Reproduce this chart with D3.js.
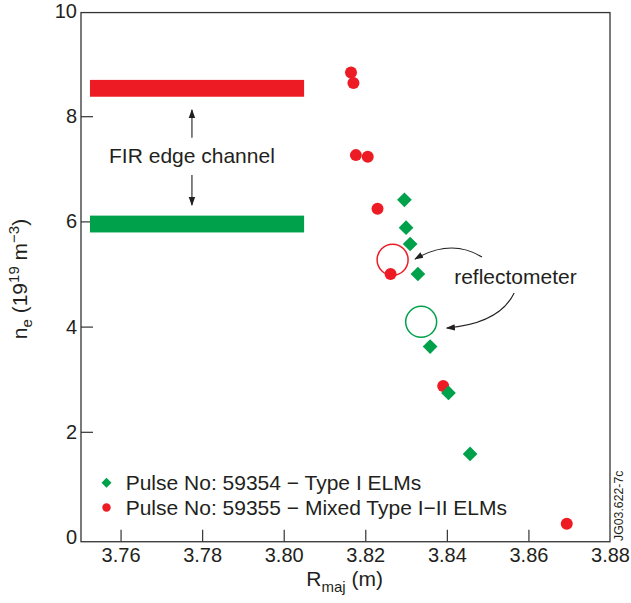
<!DOCTYPE html>
<html>
<head>
<meta charset="utf-8">
<script src="https://cdn.jsdelivr.net/npm/d3@7"></script>
<style>
  body { margin: 0; background: #fff; }
  svg { display: block; font-family: "Liberation Sans", Arial, sans-serif; }
</style>
</head>
<body>
<svg id="chart"></svg>
<script>
// Pulse 59355 (red circles)
const redR = [3.8165, 3.8171, 3.8177, 3.8206, 3.8230, 3.8262, 3.8391, 3.8694];
const redNe = [8.83, 8.63, 7.26, 7.23, 6.24, 5.00, 2.87, 0.25];
// Pulse 59354 (green diamonds)
const greenR = [3.8296, 3.8300, 3.8310, 3.8329, 3.8359, 3.8404, 3.8457];
const greenNe = [6.41, 5.88, 5.57, 5.00, 3.62, 2.74, 1.58];
// reflectometer open circles: red, green
const reflR = [3.8267, 3.8337];
const reflNe = [5.27, 4.09];
// FIR edge channel bands
const firR = [3.7525, 3.8050];
const firRedNe = [8.37, 8.69];
const firGreenNe = [5.79, 6.11];

const xTicks = [3.76, 3.78, 3.80, 3.82, 3.84, 3.86, 3.88];
const yTicks = [0, 2, 4, 6, 8, 10];

const red = "#ed1c24";
const green = "#00a14b";
const ink = "#231f20";

const svgWidth = 631;
const svgHeight = 603;

const svg = d3.select("#chart")
  .attr("width", svgWidth)
  .attr("height", svgHeight);

const x = d3.scaleLinear().domain([3.7503, 3.88]).range([81, 610]);
const y = d3.scaleLinear().domain([0, 10]).range([537, 11]);

// plot frame sits slightly outside the 0..10 range
const frameTop = y(9.97);
const frameBottom = y(-0.09);

// defs: arrow head
svg.append("defs").append("marker")
  .attr("id", "head")
  .attr("viewBox", "0 -4 9 8")
  .attr("refX", 8)
  .attr("refY", 0)
  .attr("markerUnits", "userSpaceOnUse")
  .attr("markerWidth", 9)
  .attr("markerHeight", 8)
  .attr("orient", "auto")
  .append("path")
  .attr("d", "M0,-3.2L9,0L0,3.2Z")
  .attr("fill", ink);

// axes
const xAxis = d3.axisBottom(x)
  .tickValues(xTicks)
  .tickFormat(d3.format(".2f"))
  .tickSize(-12)
  .tickPadding(6);

const yAxis = d3.axisLeft(y)
  .tickValues(yTicks)
  .tickSize(-12)
  .tickPadding(4);

const gx = svg.append("g")
  .attr("transform", "translate(0," + frameBottom + ")")
  .call(xAxis);

const gy = svg.append("g")
  .attr("transform", "translate(" + x.range()[0] + ",0)")
  .call(yAxis);

[gx, gy].forEach((g) => {
  g.select(".domain").remove();
  g.selectAll(".tick line").attr("stroke", "#333").attr("stroke-width", 1.2);
  g.selectAll(".tick text")
    .attr("fill", ink)
    .style("font-size", "20px")
    .style("font-family", "'Liberation Sans', Arial, sans-serif");
});
// end ticks fall on the frame, so only their labels show
gy.selectAll(".tick").filter((d) => d === 0 || d === 10).select("line").remove();
gx.selectAll(".tick").filter((d) => d === 3.88).select("line").remove();

// frame
svg.append("rect")
  .attr("x", x.range()[0])
  .attr("y", frameTop)
  .attr("width", x.range()[1] - x.range()[0])
  .attr("height", frameBottom - frameTop)
  .attr("fill", "none")
  .attr("stroke", "#333")
  .attr("stroke-width", 1.3);

// FIR bands
svg.append("rect")
  .attr("x", x(firR[0]))
  .attr("y", y(firRedNe[1]))
  .attr("width", x(firR[1]) - x(firR[0]))
  .attr("height", y(firRedNe[0]) - y(firRedNe[1]))
  .attr("fill", red);

svg.append("rect")
  .attr("x", x(firR[0]))
  .attr("y", y(firGreenNe[1]))
  .attr("width", x(firR[1]) - x(firR[0]))
  .attr("height", y(firGreenNe[0]) - y(firGreenNe[1]))
  .attr("fill", green);

// FIR annotation
svg.append("text")
  .attr("x", x(3.7775))
  .attr("y", y(7.116))
  .attr("text-anchor", "middle")
  .attr("fill", ink)
  .style("font-size", "21px")
  .text("FIR edge channel");

svg.append("line")
  .attr("x1", x(3.7775)).attr("y1", y(7.59))
  .attr("x2", x(3.7775)).attr("y2", y(8.12))
  .attr("stroke", ink).attr("stroke-width", 1.1)
  .attr("marker-end", "url(#head)");

svg.append("line")
  .attr("x1", x(3.7775)).attr("y1", y(6.88))
  .attr("x2", x(3.7775)).attr("y2", y(6.31))
  .attr("stroke", ink).attr("stroke-width", 1.1)
  .attr("marker-end", "url(#head)");

// reflectometer open circles
const reflColors = [red, green];
svg.selectAll(".refl")
  .data(reflR)
  .enter()
  .append("circle")
  .attr("class", "refl")
  .attr("cx", (d) => x(d))
  .attr("cy", (d, i) => y(reflNe[i]))
  .attr("r", 15.5)
  .attr("fill", "none")
  .attr("stroke", (d, i) => reflColors[i])
  .attr("stroke-width", 1.5);

// red circles
svg.selectAll(".red")
  .data(redR)
  .enter()
  .append("circle")
  .attr("class", "red")
  .attr("cx", (d) => x(d))
  .attr("cy", (d, i) => y(redNe[i]))
  .attr("r", 6)
  .attr("fill", red);

// green diamonds
const diamond = d3.symbol().type(d3.symbolSquare).size(108);
svg.selectAll(".green")
  .data(greenR)
  .enter()
  .append("path")
  .attr("class", "green")
  .attr("d", diamond)
  .attr("transform", (d, i) => "translate(" + x(d) + "," + y(greenNe[i]) + ") rotate(45)")
  .attr("fill", green);

// reflectometer label and arrows
svg.append("text")
  .attr("x", x(3.8418))
  .attr("y", y(4.81))
  .attr("fill", ink)
  .style("font-size", "21px")
  .text("reflectometer");

const curve = (p0, c, p1) =>
  "M" + x(p0[0]) + "," + y(p0[1]) +
  "Q" + x(c[0]) + "," + y(c[1]) + " " + x(p1[0]) + "," + y(p1[1]);

svg.append("path")
  .attr("d", curve([3.8486, 5.323], [3.8411, 5.684], [3.8322, 5.285]))
  .attr("fill", "none")
  .attr("stroke", ink)
  .attr("stroke-width", 1.1)
  .attr("marker-end", "url(#head)");

svg.append("path")
  .attr("d", curve([3.8565, 4.639], [3.8529, 4.059], [3.8400, 3.973]))
  .attr("fill", "none")
  .attr("stroke", ink)
  .attr("stroke-width", 1.1)
  .attr("marker-end", "url(#head)");

// legend
const legend = svg.append("g").style("font-size", "21px").attr("fill", ink);
legend.append("path")
  .attr("d", d3.symbol().type(d3.symbolSquare).size(50))
  .attr("transform", "translate(106.5,482.8) rotate(45)")
  .attr("fill", green);
legend.append("circle")
  .attr("cx", 106.5).attr("cy", 507.5).attr("r", 4.2)
  .attr("fill", red);
legend.append("text")
  .attr("x", 125.7).attr("y", 490)
  .text("Pulse No: 59354 \u2212 Type I ELMs");
legend.append("text")
  .attr("x", 125.7).attr("y", 514.5)
  .text("Pulse No: 59355 \u2212 Mixed Type I\u2212II ELMs");

// axis titles
const xt = svg.append("text")
  .attr("x", 344.7)
  .attr("y", 586)
  .attr("text-anchor", "middle")
  .attr("fill", ink)
  .style("font-size", "21px");
xt.append("tspan").text("R");
xt.append("tspan").attr("dy", 6).style("font-size", "15px").text("maj");
xt.append("tspan").attr("dy", -6).text(" (m)");

const yt = svg.append("text")
  .attr("transform", "translate(27,279) rotate(-90)")
  .attr("text-anchor", "middle")
  .attr("fill", ink)
  .style("font-size", "21px");
yt.append("tspan").text("n");
yt.append("tspan").attr("dy", 5).style("font-size", "15px").text("e");
yt.append("tspan").attr("dy", -5).text(" (19");
yt.append("tspan").attr("dy", -8).style("font-size", "15px").text("19");
yt.append("tspan").attr("dy", 8).text(" m");
yt.append("tspan").attr("dy", -8).style("font-size", "15px").text("\u22123");
yt.append("tspan").attr("dy", 8).text(")");

// figure id
svg.append("text")
  .attr("transform", "translate(623,541) rotate(-90)")
  .attr("fill", ink)
  .style("font-size", "12.3px")
  .text("JG03.622-7c");
</script>
</body>
</html>
